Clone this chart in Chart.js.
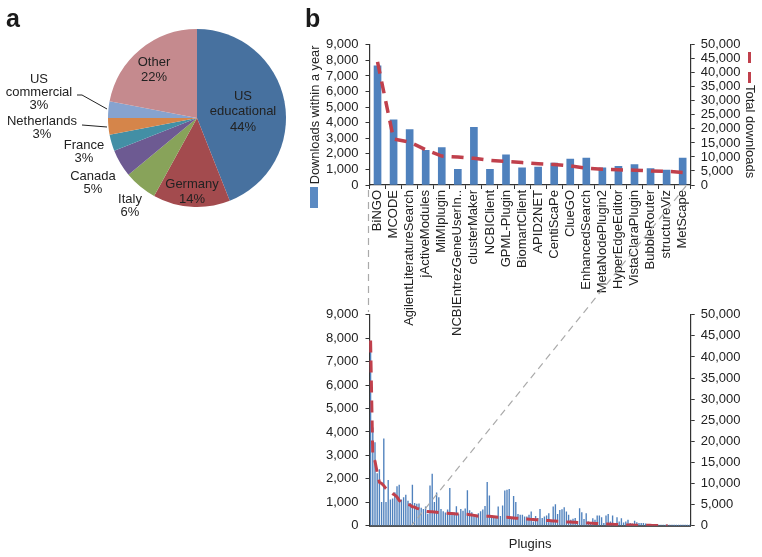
<!DOCTYPE html>
<html>
<head>
<meta charset="utf-8">
<script src="https://cdn.jsdelivr.net/npm/chart.js@4"></script>
<style>
  html, body { margin: 0; padding: 0; background: #fff; }
  #page { position: relative; width: 762px; height: 557px; overflow: hidden; font-family: "Liberation Sans", sans-serif; color: #222; }
  canvas { position: absolute; }
  .panel-letter { position: absolute; font-size: 25px; font-weight: bold; line-height: 1; color: #1a1a1a; }
  .side-title { position: absolute; font-size: 13px; writing-mode: vertical-rl; white-space: nowrap; }
  .swatch { position: absolute; }
  #connectors { position: absolute; left: 0; top: 0; }
</style>
</head>
<body>
<div id="page">
  <canvas id="pieChart" width="300" height="230" style="left:0;top:0"></canvas>
  <canvas id="topChart" width="456" height="310" style="left:306px;top:30px"></canvas>
  <canvas id="allChart" width="442" height="257" style="left:320px;top:300px"></canvas>
  <svg id="connectors" width="762" height="557">
    <line x1="368.5" y1="190" x2="368.5" y2="312" stroke="#aaa" stroke-width="1.2" stroke-dasharray="7 5"/>
    <line x1="686" y1="186" x2="412" y2="525" stroke="#aaa" stroke-width="1.2" stroke-dasharray="7 5"/>
  </svg>
  <div class="panel-letter" style="left:6px;top:6px">a</div>
  <div class="panel-letter" style="left:305px;top:6px">b</div>
  <div class="swatch" style="left:310px;top:187px;width:8px;height:21px;background:#5b8ac2"></div>
  <div class="swatch" style="left:748px;top:52px;width:3px;height:11px;background:#c0404c"></div>
  <div class="swatch" style="left:748px;top:72px;width:3px;height:11px;background:#c0404c"></div>
  <div class="side-title" style="left:743px;top:85px">Total downloads</div>
</div>
<script>
const pieCategories = ["US educational", "Germany", "Italy", "Canada", "France", "Netherlands", "US commercial", "Other"];
const pieValues = [44, 14, 6, 5, 3, 3, 3, 22];
const pieColors = ["#47719f", "#a34b4e", "#88a35a", "#6d5a92", "#438fa5", "#d5854a", "#86a3cf", "#c58a8e"];

const topPlugins = ["BiNGO", "MCODE", "AgilentLiteratureSearch", "jActiveModules", "MiMIplugin", "NCBIEntrezGeneUserIn..", "clusterMaker", "NCBIClient", "GPML-Plugin", "BiomartClient", "APID2NET", "CentiScaPe", "ClueGO", "EnhancedSearch", "MetaNodePlugin2", "HyperEdgeEditor", "VistaClaraPlugin", "BubbleRouter", "structureViz", "MetScape"];
const topYearDownloads = [7650, 4180, 3550, 2220, 2400, 1000, 3710, 1000, 1940, 1100, 1150, 1410, 1670, 1730, 1100, 1200, 1310, 1050, 950, 1730];
const topTotalDownloads = [43900, 16400, 15300, 12600, 10300, 10000, 9500, 8800, 8400, 8000, 7600, 7300, 6800, 6000, 5600, 5400, 5300, 5000, 4900, 4500];

const restYearDownloads = [
  950, 920, 930, 750, 700, 800, 500, 1700, 2200, 1000, 1400, 1200, 700, 600, 550, 680, 1600, 520, 550, 820,
  500, 700, 620, 720, 1500, 640, 560, 480, 400, 520, 600, 680, 830, 1850, 1270, 440, 350, 330, 800, 400,
  850, 1490, 1520, 1550, 300, 1250, 1000, 490, 450, 450, 380, 380, 450, 590, 170, 400, 310, 700, 310, 380,
  420, 520, 170, 800, 900, 490, 660, 690, 770, 590, 450, 240, 280, 310, 170, 730, 560, 270, 520, 170,
  100, 300, 240, 420, 420, 350, 100, 420, 480, 170, 420, 100, 350, 170, 300, 120, 170, 240, 100, 80,
  200, 130, 100, 100, 100, 80, 60, 50, 40, 30, 30, 20, 20, 20, 10, 10, 10, 10, 5, 5, 5, 5, 5, 5, 5, 5
];
const restTotalDownloads = [
  4400, 4100, 4000, 3800, 3600, 3400, 3350, 3300, 3280, 3240, 3200, 3150, 3100, 3050, 3000, 2960, 2920, 2880, 2840, 2800,
  2780, 2760, 2740, 2720, 2700, 2620, 2540, 2450, 2360, 2270, 2270, 2270, 2270, 2270, 2220, 2170, 2120, 2060, 2000, 2000,
  2000, 2000, 2000, 1950, 1900, 1850, 1790, 1740, 1690, 1630, 1600, 1560, 1530, 1500, 1460, 1430, 1400, 1360, 1330, 1290,
  1250, 1210, 1170, 1130, 1090, 1050, 1010, 970, 930, 900, 880, 850, 830, 800, 780, 750, 730, 700, 670, 640,
  610, 580, 550, 520, 490, 460, 430, 400, 380, 350, 330, 300, 280, 250, 230, 200, 180, 160, 150, 140,
  130, 120, 115, 110, 100, 95, 90, 80, 70, 60, 50, 40, 30, 20, 10, 0, null, null, null, null, null, null, null, null, null, null
];

const allYearDownloads = [...topYearDownloads, ...restYearDownloads];
const allTotalDownloads = [...topTotalDownloads, ...restTotalDownloads];
const allPlugins = allYearDownloads.map((_, i) => String(i + 1));

const barBlue = "#4f81bd";
const lineRed = "#c0404c";
const axisInk = "#333";
const fontFamily = '"Liberation Sans", sans-serif';

// pie label placement, same order as pieCategories; last line is the percentage
const pieLabelLines = [["US", "educational"], ["Germany"], ["Italy"], ["Canada"], ["France"], ["Netherlands"], ["US", "commercial"], ["Other"]];
const pieLabelSpots = [[243, 96, 15.5], [192, 184, 15.5], [130, 199, 13], [93, 176, 13], [84, 145, 13], [42, 121, 13], [39, 79, 13], [154, 62, 15.5]];
const pieLeaders = [[[77, 95], [82, 95], [107, 109]], [[82, 125], [107, 127]]];

const pieLabelsPlugin = {
  id: "pieLabels",
  afterDraw(chart) {
    const ctx = chart.ctx;
    ctx.save();
    ctx.font = `13px ${fontFamily}`;
    ctx.fillStyle = "#222";
    ctx.textAlign = "center";
    ctx.textBaseline = "middle";
    pieLabelLines.forEach((lines, i) => {
      const [x, y, step] = pieLabelSpots[i];
      [...lines, pieValues[i] + "%"].forEach((line, j) => ctx.fillText(line, x, y + j * step));
    });
    ctx.strokeStyle = "#222";
    ctx.lineWidth = 1;
    pieLeaders.forEach((pts) => {
      ctx.beginPath();
      pts.forEach(([x, y], i) => (i ? ctx.lineTo(x, y) : ctx.moveTo(x, y)));
      ctx.stroke();
    });
    ctx.restore();
  }
};

new Chart(document.getElementById("pieChart"), {
  type: "pie",
  data: {
    labels: pieCategories,
    datasets: [{ data: pieValues, backgroundColor: pieColors, borderWidth: 0 }]
  },
  options: {
    responsive: false,
    animation: false,
    layout: { padding: { left: 108, right: 14, top: 29, bottom: 23 } },
    plugins: { legend: { display: false }, tooltip: { enabled: false } }
  },
  plugins: [pieLabelsPlugin]
});

function fixedSize(prop, size) {
  return (scale) => { scale[prop] = size; };
}

function makeComboChart(id, labels, yearValues, totalValues, opts) {
  return new Chart(document.getElementById(id), {
    data: {
      labels: labels,
      datasets: [
        { type: "line", data: totalValues, yAxisID: "y2", borderColor: lineRed, borderWidth: opts.lineWidth, borderDash: [12, 8], pointRadius: 0, tension: 0, spanGaps: false, order: 1 },
        { type: "bar", data: yearValues, yAxisID: "y", backgroundColor: barBlue, barThickness: opts.barThickness, order: 2 }
      ]
    },
    options: {
      responsive: false,
      animation: false,
      layout: { padding: { top: opts.paddingTop } },
      plugins: { legend: { display: false }, tooltip: { enabled: false } },
      scales: {
        x: opts.xScale,
        y: {
          min: 0, max: 9000,
          afterFit: fixedSize("width", opts.leftWidth),
          border: { color: axisInk, width: 1.2 },
          grid: { drawOnChartArea: false, color: axisInk, tickLength: 4 },
          title: opts.leftTitle,
          ticks: { stepSize: 1000, autoSkip: false, padding: 7, color: "#222", font: { size: 13, family: fontFamily }, callback: (v) => v.toLocaleString("en-US") }
        },
        y2: {
          position: "right",
          min: 0, max: 50000,
          afterFit: fixedSize("width", 71.3),
          border: { color: axisInk, width: 1.2 },
          grid: { drawOnChartArea: false, color: axisInk, tickLength: 4 },
          ticks: { stepSize: 5000, autoSkip: false, padding: 6, color: "#222", font: { size: 13, family: fontFamily }, callback: (v) => v.toLocaleString("en-US") }
        }
      }
    }
  });
}

makeComboChart("topChart", topPlugins, topYearDownloads, topTotalDownloads, {
  lineWidth: 3.5,
  barThickness: 7,
  paddingTop: 13,
  leftWidth: 63.5,
  leftTitle: { display: true, text: "Downloads within a year", color: "#222", padding: { top: 2, bottom: 0 }, font: { size: 12.8, family: fontFamily } },
  xScale: {
    afterFit: fixedSize("height", 155),
    border: { color: axisInk, width: 1.2 },
    grid: { drawOnChartArea: false, color: axisInk, tickLength: 4 },
    ticks: { autoSkip: false, minRotation: 90, maxRotation: 90, padding: 1, color: "#222", font: { size: 13, family: fontFamily } }
  }
});

makeComboChart("allChart", allPlugins, allYearDownloads, allTotalDownloads, {
  lineWidth: 3,
  barThickness: 0.7,
  paddingTop: 12,
  leftWidth: 49.5,
  leftTitle: { display: false },
  xScale: {
    afterFit: fixedSize("height", 31.3),
    border: { color: "#555", width: 2 },
    grid: { drawOnChartArea: false, drawTicks: false },
    ticks: { display: false },
    title: { display: true, text: "Plugins", color: "#222", padding: { top: 0, bottom: 5 }, font: { size: 13, family: fontFamily } }
  }
});
</script>
</body>
</html>
